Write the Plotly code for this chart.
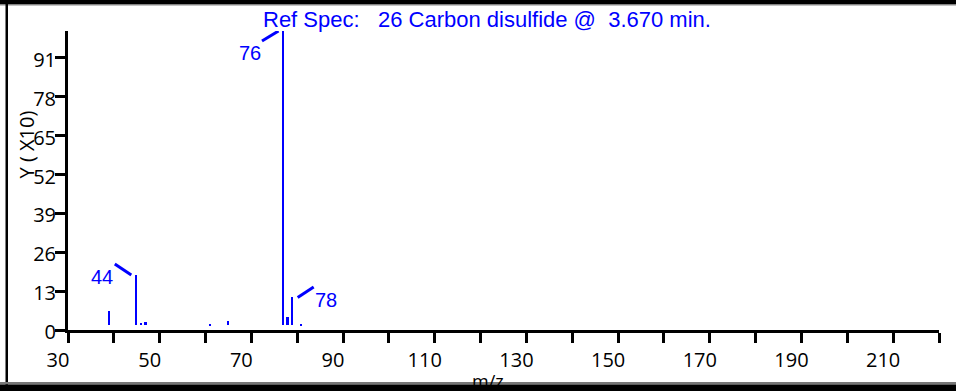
import plotly.graph_objects as go

# Reference spectrum: Carbon disulfide (intensity shown as Y x10)
mz        = [38, 44, 45, 46, 60, 64, 76, 77, 78, 80]
intensity = [6.4, 18.4, 2.4, 2.8, 1.9, 2.85, 100, 4.3, 10.9, 1.9]

labelled_mz  = [76, 44, 78]
label_text   = ["76", "44", "78"]

x_range   = [30, 220]
y_range   = [0, 100]
x_major   = list(range(30, 211, 20))
y_ticks   = [0, 13, 26, 39, 52, 65, 78, 91]

title_txt = "Ref Spec:\u00a0\u00a0 26 Carbon disulfide @\u00a0 3.670 min."

BLUE, BLACK = "#0000FF", "#000000"
MZ_SHIFT    = 0.9    # sticks sit a little right of the tick marks in the original
STICK_FLOOR = 1.6    # sticks start just above the axis line
W, H = 956, 391
PL, PR, PT, PB = 68, 939, 31, 330

def fx(p):  # figure pixel -> paper fraction
    return (p - PL) / (PR - PL)

def fy(p):
    return (PB - p) / (PB - PT)

xpos = [m + MZ_SHIFT for m in mz]

fig = go.Figure(go.Bar(
    x=xpos,
    y=[v - STICK_FLOOR for v in intensity],
    base=STICK_FLOOR,
    width=0.5,
    marker=dict(color=BLUE, line=dict(width=0)),
    hoverinfo="skip",
    showlegend=False,
))

# leader line + label placement (pixel offsets from the stick top)
placement = {
    "76": dict(line=(-21, -10, -4.5, 0), text=(-33, -22)),
    "44": dict(line=(-21.5, 11, -5, 0), text=(-34, -2)),
    "78": dict(line=(5.5, 0, 21.5, 10.5), text=(34, -3)),
}
shapes = []
annotations = []
for m, t in zip(labelled_mz, label_text):
    i = mz.index(m)
    lx0, ly0, lx1, ly1 = placement[t]["line"]
    shapes.append(dict(
        type="line", xref="x", yref="y",
        xsizemode="pixel", ysizemode="pixel",
        xanchor=xpos[i], yanchor=intensity[i],
        x0=lx0, y0=ly0, x1=lx1, y1=ly1,
        line=dict(color=BLUE, width=3),
    ))
    tx, ty = placement[t]["text"]
    annotations.append(dict(
        x=xpos[i], y=intensity[i], xref="x", yref="y",
        text=t, showarrow=False, xshift=tx, yshift=ty,
        font=dict(family="Liberation Sans", size=20, color=BLUE),
    ))

# frame around the picture
shapes += [
    dict(type="rect", xref="paper", yref="paper", x0=fx(0), x1=fx(W), y0=fy(0), y1=fy(4.5),
         fillcolor=BLACK, line=dict(width=0), layer="above"),
    dict(type="rect", xref="paper", yref="paper", x0=fx(0), x1=fx(W), y0=fy(4.5), y1=fy(5.5),
         fillcolor="#888", line=dict(width=0), layer="above"),
    dict(type="rect", xref="paper", yref="paper", x0=fx(5.5), x1=fx(8), y0=fy(0), y1=fy(H),
         fillcolor=BLACK, line=dict(width=0), layer="above"),
    dict(type="rect", xref="paper", yref="paper", x0=fx(0), x1=fx(W), y0=fy(382), y1=fy(384.5),
         fillcolor="#777", line=dict(width=0), layer="above"),
    dict(type="rect", xref="paper", yref="paper", x0=fx(0), x1=fx(W), y0=fy(384.5), y1=fy(H),
         fillcolor=BLACK, line=dict(width=0), layer="above"),
]

annotations += [
    dict(x=fx(487), y=fy(19.5), xref="paper", yref="paper", text=title_txt,
         showarrow=False, xanchor="center", yanchor="middle",
         font=dict(family="Liberation Sans", size=22, color=BLUE)),
    dict(x=fx(25.5), y=fy(145), xref="paper", yref="paper", text="Y ( X10)",
         showarrow=False, textangle=-90, xanchor="center", yanchor="middle",
         font=dict(family="Open Sans", size=20, color=BLACK)),
    dict(x=fx(488), y=fy(381), xref="paper", yref="paper", text="m/z",
         showarrow=False, xanchor="center", yanchor="middle",
         font=dict(family="Open Sans", size=18, color=BLACK)),
]

fig.update_layout(
    width=W, height=H,
    margin=dict(l=PL, r=W - PR, t=PT, b=H - PB),
    paper_bgcolor="white", plot_bgcolor="white",
    bargap=0,
    shapes=shapes,
    annotations=annotations,
    xaxis=dict(
        range=x_range, tickvals=x_major, ticks="outside", ticklen=10, tickwidth=2.5,
        tickcolor=BLACK, showline=True, linecolor=BLACK, linewidth=3,
        showgrid=False, zeroline=False, ticklabelshift=-10,
        tickfont=dict(family="Open Sans", size=20, color=BLACK),
        minor=dict(tick0=30, dtick=10, ticks="outside", ticklen=10, tickwidth=2.5,
                   tickcolor=BLACK, showgrid=False),
    ),
    yaxis=dict(
        range=y_range, tickvals=y_ticks, ticks="outside", ticklen=10, tickwidth=2.5,
        tickcolor=BLACK, showline=True, linecolor=BLACK, linewidth=3,
        showgrid=False, zeroline=False, ticklabelshift=2, ticklabelstandoff=-5,
        tickfont=dict(family="Open Sans", size=20, color=BLACK),
    ),
)

# drop the page's default body margin so the figure sits at the window corner
fig.write_html("out.html", config={"displayModeBar": False},
               post_script="document.body.style.margin='0';")
